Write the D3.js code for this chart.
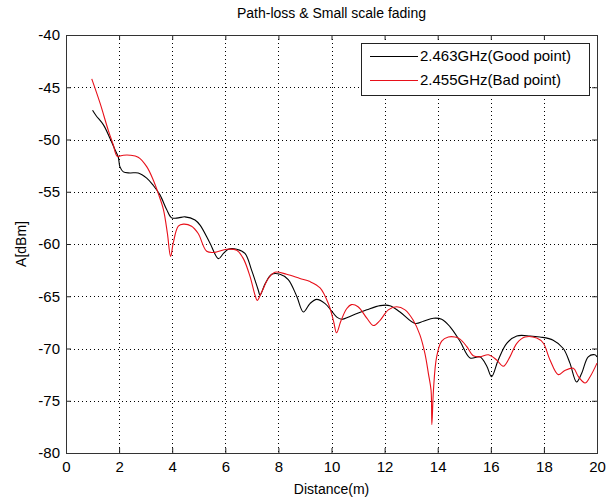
<!DOCTYPE html>
<meta charset="utf-8">
<head>
  <title>Path-loss &amp; Small scale fading</title>
  <script src="https://d3js.org/d3.v7.min.js"></script>
  <style>
    body { margin: 0; background: #fff; }
    text { font-family: "Liberation Sans", Arial, sans-serif; fill: #000; }
  </style>
</head>
<body>
<div id="display"></div>
<script>

  // distance (m) and level (dBm)
  var goodX = [1.0, 1.13, 1.41, 1.66, 1.85, 1.97, 2.03, 2.16, 2.41, 2.72, 3.04, 3.29, 3.54, 3.79, 3.98, 4.23, 4.48, 4.86,
    5.05, 5.42, 5.74, 5.93, 6.11, 6.43, 6.74, 6.99, 7.24, 7.31, 7.5, 7.75, 8.06, 8.37, 8.69, 8.94, 9.19, 9.44, 9.76,
    10.0, 10.2, 10.38, 10.82, 11.33, 11.83, 12.2, 12.58, 13.15, 13.46, 13.84, 14.15, 14.46, 14.84, 15.22, 15.59, 15.85,
    16.03, 16.28, 16.6, 16.98, 17.48, 17.85, 18.35, 18.73, 18.98, 19.23, 19.42, 19.67, 19.92, 20.0];
  var goodY = [-47.2, -47.7, -48.6, -49.9, -51.0, -51.7, -52.6, -53.1, -53.2, -53.2, -53.7, -54.4, -55.3, -56.7, -57.5, -57.5, -57.4, -57.7,
    -58.2, -59.9, -61.4, -60.9, -60.5, -60.5, -60.9, -62.5, -64.4, -64.9, -63.8, -62.9, -62.9, -63.4, -65.0, -66.5, -65.7, -65.3, -65.7,
    -66.4, -67.0, -67.2, -66.8, -66.3, -65.9, -65.9, -66.5, -67.6, -67.4, -67.1, -67.2, -67.9, -69.3, -70.9, -70.8, -71.7,
    -72.7, -71.1, -69.5, -68.8, -68.8, -68.9, -69.2, -70.0, -71.4, -73.2, -72.4, -70.8, -70.6, -70.8];

  var badX = [0.97, 1.28, 1.59, 1.78, 1.93, 2.16, 2.41, 2.72, 3.04, 3.29, 3.48, 3.67, 3.82, 3.94, 4.04, 4.23, 4.42, 4.73, 4.98,
    5.3, 5.61, 6.05, 6.43, 6.68, 6.93, 7.12, 7.2, 7.37, 7.62, 7.87, 8.31, 8.81, 9.19, 9.57, 9.88, 10.07, 10.19, 10.35,
    10.57, 10.75, 11.0, 11.33, 11.58, 11.83, 12.14, 12.45, 12.77, 13.08, 13.33, 13.52, 13.65, 13.75, 13.78, 13.84,
    13.96, 14.15, 14.4, 14.65, 14.84, 15.09, 15.34, 15.59, 15.91, 16.22, 16.47, 16.72, 16.98, 17.29, 17.73, 17.98,
    18.23, 18.54, 18.79, 19.11, 19.3, 19.55, 19.74, 20.0];
  var badY = [-44.2, -46.5, -49.1, -50.5, -51.6, -51.5, -51.5, -51.7, -52.6, -53.9, -55.2, -56.7, -59.0, -61.2, -59.9, -58.3, -58.1, -58.3, -59.0,
    -60.7, -60.8, -60.5, -60.6, -61.4, -63.1, -64.9, -65.4, -64.6, -63.3, -62.7, -62.9, -63.3, -63.6, -64.2, -65.7, -67.3, -68.5, -67.4,
    -66.2, -65.8, -66.0, -67.1, -67.8, -67.3, -66.3, -66.0, -66.3, -67.3, -68.7, -70.5, -72.4, -74.0, -77.3, -74.0,
    -70.8, -69.3, -68.9, -68.9, -69.1, -69.8, -70.7, -70.8, -70.6, -71.1, -71.7, -70.8, -69.5, -68.9, -69.0, -69.5,
    -71.1, -72.5, -72.1, -71.9, -72.7, -73.3, -72.7, -71.4];

  var xTicks = [0, 2, 4, 6, 8, 10, 12, 14, 16, 18, 20];
  var yTicks = [-80, -75, -70, -65, -60, -55, -50, -45, -40];
  var seriesNames = ["2.463GHz(Good point)", "2.455GHz(Bad point)"];
  var seriesColors = ["#000000", "#e8101a"];

  var W = 615, H = 501;
  var margin = {top: 35, right: 18, bottom: 48, left: 66};

  var svg = d3.select("#display").append("svg")
      .attr("width", W)
      .attr("height", H);

  var x = d3.scaleLinear().domain([0, 20]).range([margin.left, W - margin.right]);
  var y = d3.scaleLinear().domain([-80, -40]).range([H - margin.bottom, margin.top]);

  // grid
  var grid = svg.append("g").attr("stroke", "#000").attr("stroke-width", 1).attr("stroke-dasharray", "1,3");
  grid.selectAll("line.gx").data(xTicks.slice(1, -1)).enter().append("line")
      .attr("x1", function(d) { return Math.round(x(d)) + 0.5; })
      .attr("x2", function(d) { return Math.round(x(d)) + 0.5; })
      .attr("y1", y(-40)).attr("y2", y(-80));
  grid.selectAll("line.gy").data(yTicks.slice(1, -1)).enter().append("line")
      .attr("y1", function(d) { return Math.round(y(d)) + 0.5; })
      .attr("y2", function(d) { return Math.round(y(d)) + 0.5; })
      .attr("x1", x(0)).attr("x2", x(20));

  // axes (ticks inside, on all four sides)
  var tickLen = 5;
  svg.append("g").attr("transform", "translate(0," + y(-80) + ")")
      .call(d3.axisBottom(x).tickValues(xTicks).tickSizeInner(-tickLen).tickSizeOuter(0).tickPadding(8))
      .call(function(g) { g.selectAll("text").style("font-size", "15px"); });
  svg.append("g").attr("transform", "translate(0," + y(-40) + ")")
      .call(d3.axisTop(x).tickValues(xTicks).tickSizeInner(-tickLen).tickSizeOuter(0).tickFormat(""));
  svg.append("g").attr("transform", "translate(" + x(0) + ",0)")
      .call(d3.axisLeft(y).tickValues(yTicks).tickSizeInner(-tickLen).tickSizeOuter(0).tickPadding(6)
        .tickFormat(function(d) { return d; }))
      .call(function(g) { g.selectAll("text").style("font-size", "15px"); });
  svg.append("g").attr("transform", "translate(" + x(20) + ",0)")
      .call(d3.axisRight(y).tickValues(yTicks).tickSizeInner(-tickLen).tickSizeOuter(0).tickFormat(""));
  svg.selectAll(".domain").remove();
  svg.selectAll(".tick line").attr("stroke", "#222");

  svg.append("rect")
      .attr("x", x(0) + 0.5).attr("y", y(-40) + 0.5)
      .attr("width", x(20) - x(0)).attr("height", y(-80) - y(-40))
      .attr("fill", "none").attr("stroke", "#333");

  // series
  var line = d3.line().curve(d3.curveCatmullRom.alpha(0.5))
      .x(function(d) { return x(d[0]); })
      .y(function(d) { return y(d[1]); });

  var series = [d3.zip(goodX, goodY), d3.zip(badX, badY)];
  // draw black first, red on top
  svg.selectAll("path.series").data(series).enter().append("path")
      .attr("class", "series")
      .attr("fill", "none")
      .attr("stroke", function(d, i) { return seriesColors[i]; })
      .attr("stroke-width", 1.1)
      .attr("d", line);

  // title and labels
  svg.append("text").attr("x", (x(0) + x(20)) / 2).attr("y", 18)
      .attr("text-anchor", "middle").style("font-size", "14px")
      .text("Path-loss & Small scale fading");
  svg.append("text").attr("x", (x(0) + x(20)) / 2).attr("y", 494)
      .attr("text-anchor", "middle").style("font-size", "14px")
      .text("Distance(m)");
  svg.append("text")
      .attr("transform", "translate(26," + ((y(-40) + y(-80)) / 2) + ") rotate(-90)")
      .attr("text-anchor", "middle").style("font-size", "14px")
      .text("A[dBm]");

  // legend
  var lg = svg.append("g").attr("transform", "translate(361,43)");
  lg.append("rect").attr("x", 0.5).attr("y", 0.5).attr("width", 228).attr("height", 52)
      .attr("fill", "#fff").attr("stroke", "#222");
  seriesNames.forEach(function(name, i) {
    var yy = 13 + i * 24;
    lg.append("line").attr("x1", 9).attr("x2", 57).attr("y1", yy + 0.5).attr("y2", yy + 0.5)
        .attr("stroke", seriesColors[i]).attr("stroke-width", 1.1);
    lg.append("text").attr("x", 59).attr("y", yy + 5).style("font-size", "15px").text(name);
  });

</script>
</body>
